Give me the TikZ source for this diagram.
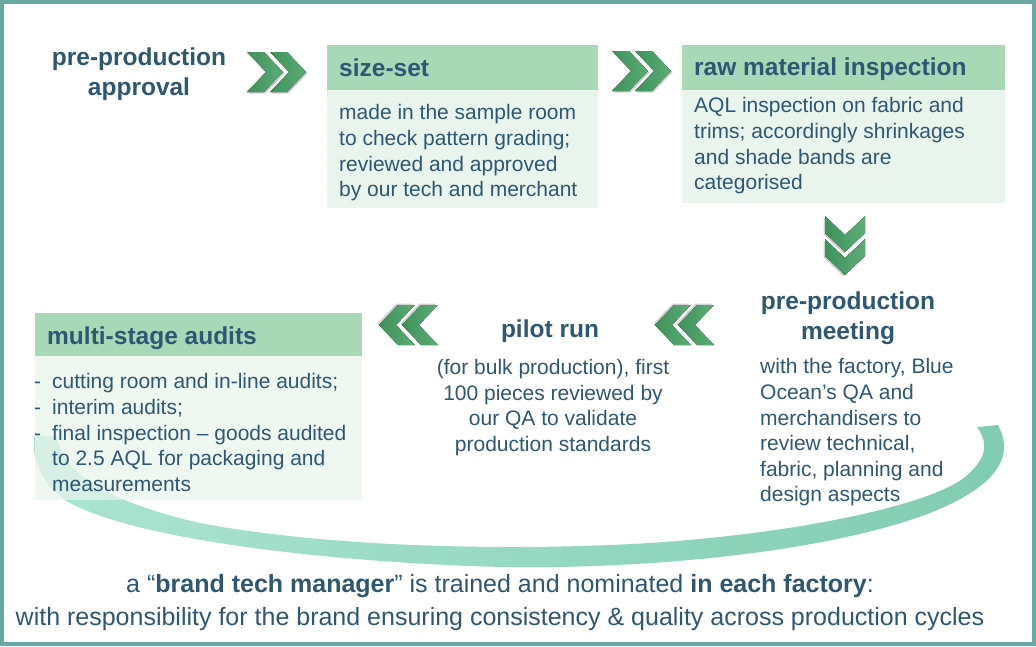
\documentclass[tikz,border=0pt]{standalone}
\usepackage{fontspec}
\setmainfont{Liberation Sans}
\definecolor{txt}{RGB}{45,87,115}
\definecolor{hdr}{RGB}{169,216,182}
\definecolor{bdy}{RGB}{233,244,236}
\definecolor{frm}{RGB}{104,168,160}
\definecolor{chvd}{RGB}{62,146,92}
\definecolor{chvl}{RGB}{92,172,118}
\definecolor{swl}{RGB}{172,229,210}
\definecolor{swr}{RGB}{128,204,177}
\tikzset{
  chev/.pic={
    \fill[black,opacity=0.18] (1.5,-18.5)--(18.5,-18.5)--(37.5,1.5)--(18.5,21.5)--(1.5,21.5)--(20.5,1.5)--cycle;
    \fill[black,opacity=0.18] (24.5,-18.5)--(41.5,-18.5)--(60.5,1.5)--(41.5,21.5)--(24.5,21.5)--(43.5,1.5)--cycle;
    \fill[left color=chvd,right color=chvl] (0,-20)--(17,-20)--(36,0)--(17,20)--(0,20)--(19,0)--cycle;
    \fill[left color=chvd,right color=chvl] (23,-20)--(40,-20)--(59,0)--(40,20)--(23,20)--(42,0)--cycle;
  },
  bigbold/.style={text=txt,inner sep=0pt,font=\fontsize{24.5}{30}\selectfont\bfseries},
  hdtext/.style={bigbold,anchor=west,text height=17.5pt,text depth=5pt},
  bodytext/.style={text=txt,inner sep=0pt,anchor=north west,align=left,font=\fontsize{21}{25.6}\selectfont},
  hdbox/.style={fill=hdr},
  bdbox/.style={fill=bdy},
  swoosh/.style={left color=swl,right color=swr},
}
\begin{document}
\begin{tikzpicture}[x=1pt,y=-1pt]
\useasboundingbox (0,0) rectangle (1036,646);
\fill[white] (0,0) rectangle (1036,646);
\draw[frm,line width=4pt] (2,2) rectangle (1034,644);

% swoosh
\shade[swoosh] (998,425) .. controls (1014,455) and (1000,485) .. (930,513)
  .. controls (820,555) and (620,572) .. (470,566)
  .. controls (320,560) and (140,540) .. (70,503)
  .. controls (40,485) and (30,455) .. (35,435)
  -- (57,437)
  .. controls (62,470) and (100,500) .. (200,523)
  .. controls (320,546) and (500,552) .. (650,543)
  .. controls (800,533) and (930,505) .. (965,477)
  .. controls (985,460) and (990,445) .. (977,427)
  -- cycle;

% title
\node[bigbold,align=center] (ppa) at (139,74) {pre-production\\approval};

% size-set
\fill[hdbox] (327,45) rectangle (598,90);
\fill[bdbox] (327,90) rectangle (598,208);
\node[hdtext] (ss) at (339,70) {size-set};
\node[bodytext] (ssb) at (339,104.5) {made in the sample room\\to check pattern grading;\\reviewed and approved\\by our tech and merchant};

% raw material
\fill[hdbox] (682,45) rectangle (1005,90);
\fill[bdbox] (682,90) rectangle (1005,203);
\node[hdtext] (rm) at (694,69) {raw material inspection};
\node[bodytext] (rmb) at (694,97.5) {AQL inspection on fabric and\\trims; accordingly shrinkages\\and shade bands are\\categorised};

% pre-production meeting
\node[bigbold,align=center] (ppm) at (848,318) {pre-production\\meeting};
\node[bodytext] (ppmb) at (760,358.5) {with the factory, Blue\\Ocean’s QA and\\merchandisers to\\review technical,\\fabric, planning and\\design aspects};

% pilot run
\node[bigbold,text height=17.5pt,text depth=5pt] (pr) at (550,331) {pilot run};
\node[bodytext,anchor=north,align=center] (prb) at (553,359) {(for bulk production), first\\100 pieces reviewed by\\our QA to validate\\production standards};

% multi-stage audits
\fill[hdbox] (35,313) rectangle (362,356);
\fill[bdbox,fill opacity=0.72] (35,356) rectangle (362,500);
\node[hdtext] (ms) at (47,338) {multi-stage audits};
\node[bodytext] (msb) at (34,373.5) {\makebox[18pt][l]{-}cutting room and in-line audits;\\\makebox[18pt][l]{-}interim audits;\\\makebox[18pt][l]{-}final inspection – goods audited\\\hspace*{18pt}to 2.5 AQL for packaging and\\\hspace*{18pt}measurements};

% chevrons
\pic at (247,72) {chev};
\pic at (612,71) {chev};
\pic[rotate=-90] at (845,216) {chev};
\pic[rotate=180] at (714,325) {chev};
\pic[rotate=180] at (438,325) {chev};

% bottom text
\node[text=txt,inner sep=0pt,align=center,font=\fontsize{25}{33}\selectfont] (bt) at (500,603)
 {a “\textbf{brand tech manager}” is trained and nominated \textbf{in each factory}:\\with responsibility for the brand ensuring consistency \& quality across production cycles};
\end{tikzpicture}
\end{document}
